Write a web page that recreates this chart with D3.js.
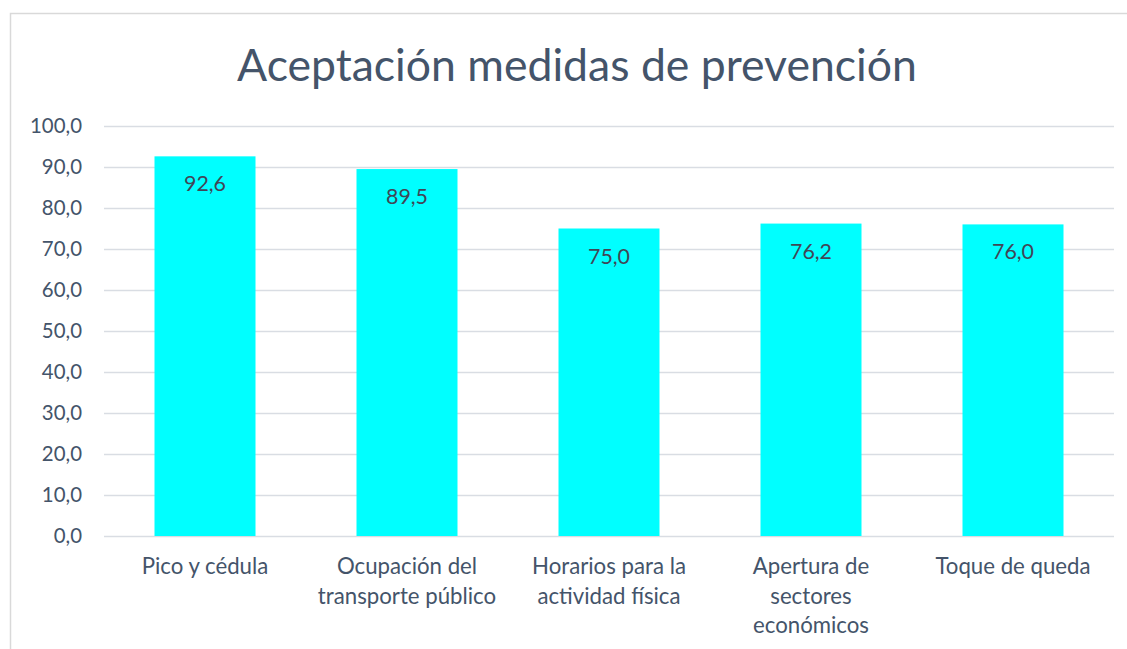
<!DOCTYPE html>
<html>
<head>
<meta charset="utf-8">
<script src="https://cdn.jsdelivr.net/npm/d3@7"></script>
<style>
  html, body { margin: 0; padding: 0; background: #fff; }
  svg { display: block; }
</style>
</head>
<body>
<svg id="chart" width="1127" height="649"></svg>
<script>
// Datos del gráfico
const categories = [
  "Pico y cédula",
  "Ocupación del transporte público",
  "Horarios para la actividad física",
  "Apertura de sectores económicos",
  "Toque de queda"
];
const values = [92.6, 89.5, 75.0, 76.2, 76.0];
const categoryLines = [
  ["Pico y cédula"],
  ["Ocupación del", "transporte público"],
  ["Horarios para la", "actividad física"],
  ["Apertura de", "sectores", "económicos"],
  ["Toque de queda"]
];
const yTicks = [0, 10, 20, 30, 40, 50, 60, 70, 80, 90, 100];
const title = "Aceptación medidas de prevención";

const W = 1127, H = 649;
const margin = { top: 126, right: 13, bottom: 113, left: 104 };
const textColor = "#44546A";
const font = "Lato, 'Open Sans', sans-serif";

const svg = d3.select("#chart");

// Ajusta el tamaño de letra para que el texto mida lo que mide en la imagen
function fitSize(text, targetWidth) {
  const t = svg.append("text").attr("font-family", font).attr("font-size", 100).text(text);
  const w = t.node().getComputedTextLength();
  t.remove();
  return 100 * targetWidth / w;
}
const tickSize = fitSize("100,0", 52);
const catSize = fitSize("Horarios para la", 154);
const labelSize = fitSize("75,0", 42);
const titleSize = fitSize(title, 680);

// Marco del gráfico
svg.append("rect")
  .attr("x", 10.5).attr("y", 13.5)
  .attr("width", W + 20).attr("height", H + 20)
  .attr("fill", "none")
  .attr("stroke", "#D9D9D9")
  .attr("stroke-width", 1.5);

const x = d3.scaleBand()
  .domain(categories)
  .range([margin.left, W - margin.right])
  .paddingInner(0.5)
  .paddingOuter(0.25);

const y = d3.scaleLinear()
  .domain([0, 100])
  .range([H - margin.bottom, margin.top]);

// Líneas de la cuadrícula y etiquetas del eje Y
const yAxis = svg.append("g")
  .attr("transform", `translate(${margin.left},0)`)
  .call(d3.axisLeft(y)
    .tickValues(yTicks)
    .tickSize(-(W - margin.left - margin.right))
    .tickPadding(22)
    .tickFormat(d => d3.format(".1f")(d).replace(".", ",")));
yAxis.select(".domain").remove();
yAxis.selectAll(".tick line")
  .attr("stroke", "#D9DDE3")
  .attr("stroke-width", 1.5);
yAxis.selectAll(".tick text")
  .attr("font-family", font)
  .attr("font-size", tickSize)
  .attr("fill", textColor);

// Barras
svg.append("g")
  .selectAll("rect")
  .data(values)
  .join("rect")
  .attr("x", (d, i) => x(categories[i]))
  .attr("y", d => y(d))
  .attr("width", x.bandwidth())
  .attr("height", d => y(0) - y(d))
  .attr("fill", "#00FFFF");

// Etiquetas de datos dentro de las barras
svg.append("g")
  .selectAll("text")
  .data(values)
  .join("text")
  .attr("x", (d, i) => x(categories[i]) + x.bandwidth() / 2)
  .attr("y", d => y(d) + 35)
  .attr("text-anchor", "middle")
  .attr("font-family", font)
  .attr("font-size", labelSize)
  .attr("fill", "#404656")
  .text(d => d3.format(".1f")(d).replace(".", ","));

// Etiquetas de categorías (en varias líneas)
const catG = svg.append("g")
  .selectAll("text")
  .data(categories)
  .join("text")
  .attr("x", d => x(d) + x.bandwidth() / 2)
  .attr("y", 574)
  .attr("text-anchor", "middle")
  .attr("font-family", font)
  .attr("font-size", catSize)
  .attr("fill", textColor);
catG.selectAll("tspan")
  .data((d, i) => categoryLines[i])
  .join("tspan")
  .attr("x", function () { return this.parentNode.getAttribute("x"); })
  .attr("dy", (d, i) => i === 0 ? 0 : 29.5)
  .text(d => d);

// Título
svg.append("text")
  .attr("x", 577)
  .attr("y", 81)
  .attr("text-anchor", "middle")
  .attr("font-family", font)
  .attr("font-size", titleSize)
  .attr("fill", textColor)
  .text(title);
</script>
</body>
</html>
